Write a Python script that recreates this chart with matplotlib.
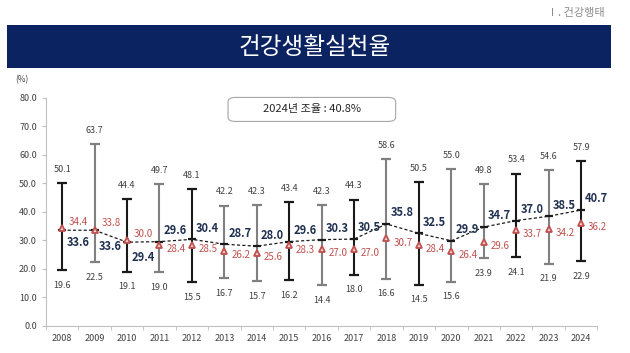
import matplotlib.pyplot as plt
from matplotlib.patches import Rectangle, FancyBboxPatch

plt.rcParams['font.family'] = ['Noto Sans CJK KR', 'DejaVu Sans']

years = [str(y) for y in range(2008, 2025)]
upper = [50.1, 63.7, 44.4, 49.7, 48.1, 42.2, 42.3, 43.4, 42.3, 44.3,
         58.6, 50.5, 55.0, 49.8, 53.4, 54.6, 57.9]
lower = [19.6, 22.5, 19.1, 19.0, 15.5, 16.7, 15.7, 16.2, 14.4, 18.0,
         16.6, 14.5, 15.6, 23.9, 24.1, 21.9, 22.9]
mean = [33.6, 33.6, 29.4, 29.6, 30.4, 28.7, 28.0, 29.6, 30.3, 30.5,
        35.8, 32.5, 29.9, 34.7, 37.0, 38.5, 40.7]
crude = [34.4, 33.8, 30.0, 28.4, 28.5, 26.2, 25.6, 28.3, 27.0, 27.0,
         30.7, 28.4, 26.4, 29.6, 33.7, 34.2, 36.2]

navy = '#0b2361'
red = '#c0504d'
bar_cols = ['#1a1a1a', '#808080', '#1a1a1a', '#808080', '#1a1a1a', '#808080',
            '#808080', '#1a1a1a', '#808080', '#1a1a1a', '#808080', '#1a1a1a',
            '#808080', '#808080', '#1a1a1a', '#808080', '#1a1a1a']
mean_dy = [-9, -12, -11] + [8] * 14   # label offsets (points)
crude_dy = [4, 5, 5] + [-3] * 14

fig = plt.figure(figsize=(6.3, 3.53), dpi=100)

# header
fig.text(0.96, 0.963, 'Ⅰ. 건강행태', ha='right', va='center', fontsize=8, color='#8c8c8c')
fig.patches.append(Rectangle((0.011, 0.808), 0.959, 0.122, transform=fig.transFigure,
                             facecolor=navy, edgecolor='none'))
fig.text(0.5, 0.866, '건강생활실천율', ha='center', va='center', fontsize=17, color='white')

ax = fig.add_axes([0.073, 0.0765, 0.875, 0.6459])
x = list(range(len(years)))

for i in x:
    ax.errorbar(i, mean[i], yerr=[[mean[i] - lower[i]], [upper[i] - mean[i]]],
                fmt='none', ecolor=bar_cols[i], elinewidth=1.5, capsize=3.3, capthick=1.6, zorder=2)

ax.plot(x, mean, ls=(0, (2.5, 1.8)), color='#1a1a1a', lw=0.9, marker='_', ms=6, mew=1.6, zorder=3)
ax.plot(x, crude, ls='none', marker='^', ms=5, mfc='#f4d0ce', mec=red, mew=1.3, zorder=4)

for i in x:
    ax.annotate(f'{upper[i]:.1f}', (i, upper[i]), xytext=(0, 10), textcoords='offset points',
                ha='center', va='center', fontsize=6.5, color='#404040')
    ax.annotate(f'{lower[i]:.1f}', (i, lower[i]), xytext=(0, -11), textcoords='offset points',
                ha='center', va='center', fontsize=6.5, color='#404040')
    ax.annotate(f'{mean[i]:.1f}', (i, mean[i]), xytext=(3, mean_dy[i]), textcoords='offset points',
                ha='left', va='center', fontsize=8, fontweight='bold', color='#1f3050')
    ax.annotate(f'{crude[i]:.1f}', (i, crude[i]), xytext=(5, crude_dy[i]), textcoords='offset points',
                ha='left', va='center', fontsize=7, color=red)

ax.set_xlim(-0.5, len(years) - 0.5)
ax.set_ylim(0, 80)
ax.set_yticks(range(0, 81, 10))
ax.set_yticklabels([f'{v:.1f}' for v in range(0, 81, 10)])
ax.set_xticks(x)
ax.set_xticklabels(years)
ax.set_xticks([i + 0.5 for i in range(-1, len(years))], minor=True)
ax.tick_params(axis='x', which='major', length=0, labelsize=6.5, labelcolor='#404040', pad=6)
ax.tick_params(axis='x', which='minor', length=3, color='#bfbfbf')
ax.tick_params(axis='y', length=3, color='#bfbfbf', labelsize=6.5, labelcolor='#404040')
for s in ['top', 'right']:
    ax.spines[s].set_visible(False)
for s in ['left', 'bottom']:
    ax.spines[s].set_color('#bfbfbf')
ax.set_facecolor('none')

fig.text(0.025, 0.773, '(%)', fontsize=6, color='#404040', va='center')

# note box
fig.patches.append(FancyBboxPatch((0.362, 0.656), 0.266, 0.068, transform=fig.transFigure,
                                  boxstyle='round,pad=0,rounding_size=0.012',
                                  facecolor='white', edgecolor='#a6a6a6', lw=0.8))
fig.text(0.495, 0.69, '2024년 조율 : 40.8%', ha='center', va='center', fontsize=8, color='#262626')

fig.savefig('out.png', dpi=100)
